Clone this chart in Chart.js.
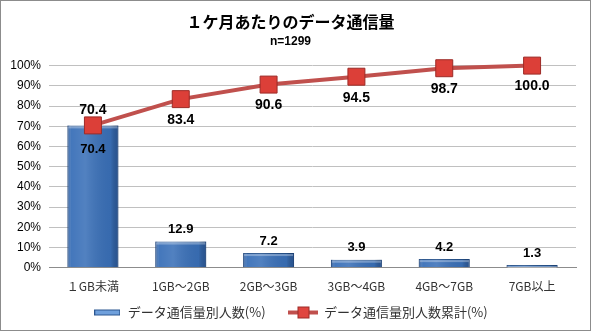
<!DOCTYPE html>
<html>
<head>
<meta charset="utf-8">
<script src="https://cdn.jsdelivr.net/npm/chart.js@4"></script>
<style>
  body { margin: 0; background: #fff; }
  #wrap { width: 589px; height: 329px; border: 1px solid #8c8c8c; }
</style>
</head>
<body>
<div id="wrap"><canvas id="usage_chart" width="589" height="329"></canvas></div>
<script>
const categories = ['１GB未満', '1GB～2GB', '2GB～3GB', '3GB～4GB', '4GB～7GB', '7GB以上'];
const perUsage = [70.4, 12.9, 7.2, 3.9, 4.2, 1.3];
const cumulative = [70.4, 83.4, 90.6, 94.5, 98.7, 100.0];
const yTicks = [0, 10, 20, 30, 40, 50, 60, 70, 80, 90, 100];

/* legend icons */
function barIcon() {
    const c = document.createElement('canvas');
    c.width = 26; c.height = 8;
    const g = c.getContext('2d');
    g.fillStyle = '#2b5690';
    g.fillRect(0, 1, 26, 6);
    g.fillStyle = '#6fa0dc';
    g.fillRect(1, 2, 24, 4);
    return c;
}
function lineIcon() {
    const c = document.createElement('canvas');
    c.width = 30; c.height = 14;
    const g = c.getContext('2d');
    g.strokeStyle = '#c0504d';
    g.lineWidth = 4;
    g.beginPath(); g.moveTo(0, 7); g.lineTo(30, 7); g.stroke();
    g.fillStyle = '#e0453f';
    g.strokeStyle = '#9c2b27';
    g.lineWidth = 1;
    g.fillRect(9, 1, 12, 12);
    g.strokeRect(9.5, 1.5, 11, 11);
    return c;
}

/* shading on the bars, from the positions the bar scale gave them */
const barShade = {
    id: 'barShade',
    afterDatasetDraw(chart, args) {
        if (args.index !== 0) return;
        const ctx = chart.ctx;
        ctx.save();
        args.meta.data.forEach(el => {
            const left = el.x - el.width / 2;
            const g = ctx.createLinearGradient(left, 0, left + el.width, 0);
            g.addColorStop(0, 'rgba(20,50,100,0.45)');
            g.addColorStop(0.08, 'rgba(255,255,255,0.05)');
            g.addColorStop(0.35, 'rgba(255,255,255,0.12)');
            g.addColorStop(0.85, 'rgba(0,0,0,0.05)');
            g.addColorStop(1, 'rgba(20,50,100,0.45)');
            ctx.fillStyle = g;
            ctx.fillRect(left, el.y, el.width, el.base - el.y);
            ctx.fillStyle = 'rgba(255,255,255,0.3)';
            ctx.fillRect(left + 1, el.y + 1, el.width - 2, 2);
        });
        ctx.restore();
    }
};

/* value labels */
const valueLabels = {
    id: 'valueLabels',
    afterDatasetsDraw(chart) {
        const ctx = chart.ctx;
        ctx.save();
        ctx.fillStyle = '#000';
        ctx.textAlign = 'center';
        ctx.textBaseline = 'middle';
        chart.getDatasetMeta(0).data.forEach((el, i) => {
            ctx.font = 'bold 13px "Liberation Sans", Arial, sans-serif';
            const y = i === 0 ? el.y + 24 : el.y - 12;
            ctx.fillText(perUsage[i].toFixed(1), el.x, y);
        });
        chart.getDatasetMeta(1).data.forEach((el, i) => {
            ctx.font = 'bold 14px "Liberation Sans", Arial, sans-serif';
            const y = i === 0 ? el.y - 15 : el.y + 21;
            ctx.fillText(cumulative[i].toFixed(1), el.x, y);
        });
        ctx.restore();
    }
};

const usage = document.getElementById('usage_chart').getContext('2d');

new Chart(usage, {
    type: 'bar',
    data: {
        labels: categories,
        datasets: [{
            type: 'bar',
            label: 'データ通信量別人数(%)',
            data: perUsage,
            backgroundColor: '#3a70b8',
            borderColor: '#24508a',
            borderWidth: 1,
            barPercentage: 0.58,
            categoryPercentage: 1,
            order: 2
        }, {
            type: 'line',
            label: 'データ通信量別人数累計(%)',
            data: cumulative,
            borderColor: '#c0504d',
            borderWidth: 4,
            clip: false,
            pointStyle: 'rect',
            pointRadius: 12,
            pointHoverRadius: 12,
            pointBackgroundColor: '#dc3f38',
            pointBorderColor: '#9c2b27',
            pointBorderWidth: 1,
            order: 1
        }]
    },
    options: {
        responsive: false,
        animation: false,
        layout: { padding: { left: 4, right: 14, top: 0, bottom: 1 } },
        plugins: {
            title: {
                display: true,
                text: '１ケ月あたりのデータ通信量',
                color: '#000',
                font: { size: 16, weight: 'bold', family: '"Noto Sans CJK JP", sans-serif' },
                padding: { top: 11, bottom: 0 }
            },
            subtitle: {
                display: true,
                text: 'n=1299',
                color: '#000',
                font: { size: 12, weight: 'bold', family: '"Liberation Sans", Arial, sans-serif' },
                padding: { top: 3, bottom: 17 }
            },
            legend: {
                position: 'bottom',
                labels: {
                    usePointStyle: true,
                    pointStyleWidth: 28,
                    color: '#333',
                    font: { size: 13, family: '"Noto Sans CJK JP", sans-serif' },
                    padding: 8,
                    generateLabels(chart) {
                        return chart.data.datasets.map((ds, i) => ({
                            text: i === 0 ? ds.label + '\u3000 ' : ds.label,
                            pointStyle: i === 0 ? barIcon() : lineIcon(),
                            datasetIndex: i,
                            fontColor: '#333',
                            hidden: false
                        }));
                    }
                }
            },
            tooltip: { enabled: false }
        },
        scales: {
            x: {
                grid: { display: false },
                border: { color: '#8c8c8c' },
                ticks: {
                    color: '#333',
                    font: { size: 12, family: '"Noto Sans CJK JP", sans-serif' },
                    padding: 4
                }
            },
            y: {
                min: 0,
                max: 100,
                afterBuildTicks(axis) {
                    axis.ticks = yTicks.map(v => ({ value: v }));
                },
                afterFit(axis) { axis.width = 44; },
                grid: { color: '#c0c0c0', drawTicks: false },
                border: { display: false },
                ticks: {
                    color: '#000',
                    padding: 8,
                    font: { size: 12, family: '"Liberation Sans", Arial, sans-serif' },
                    callback: v => v + '%'
                }
            }
        }
    },
    plugins: [barShade, valueLabels]
});
</script>
</body>
</html>
